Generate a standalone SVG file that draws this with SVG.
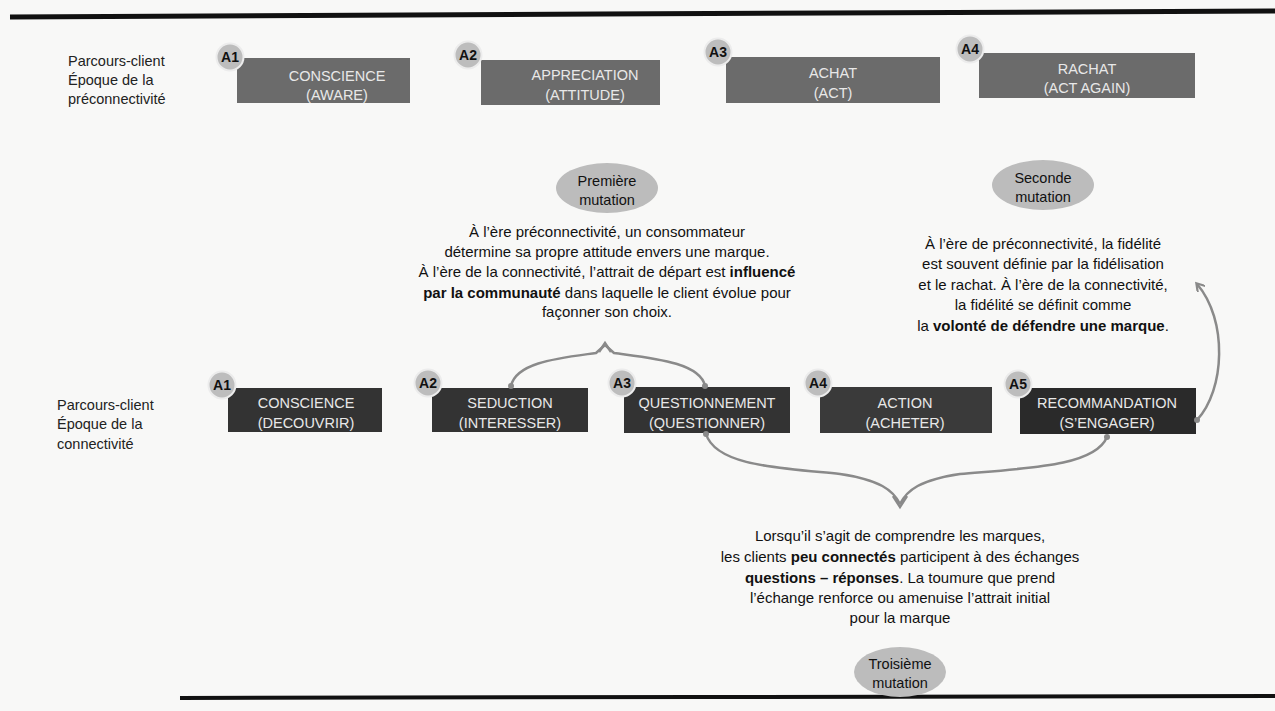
<svg xmlns="http://www.w3.org/2000/svg" width="1275" height="711" viewBox="0 0 1275 711">
<style>
text{font-family:"Liberation Sans",Arial,sans-serif;}
.lbl{font-size:14.5px;fill:#222;}
.bt{font-size:14.5px;fill:#e8e8e8;text-anchor:middle;}
.p{font-size:15px;fill:#111;text-anchor:middle;}
.b{font-weight:bold;}
.num{font-size:14px;font-weight:bold;fill:#111;text-anchor:middle;}
.c{fill:#bdbdbd;stroke:#ececec;stroke-width:2;}
.box1{fill:#6b6b6b;}
.box2{fill:#333333;}
.ell{fill:#bcbcbc;}
.et{font-size:14.5px;fill:#111;text-anchor:middle;}
.con{fill:none;stroke:#8a8a8a;stroke-width:2.5;}
.dot{fill:#8a8a8a;}
</style>
<defs>
<marker id="ah" markerWidth="10" markerHeight="10" refX="7" refY="5" orient="auto" markerUnits="userSpaceOnUse">
<path d="M0,0 L8,5 L0,10" fill="none" stroke="#8a8a8a" stroke-width="2.2"/>
</marker>
</defs>
<rect width="1275" height="711" fill="#f8f8f7"/>
<path d="M10,17 L600,14 L1275,11" stroke="#111" stroke-width="5" fill="none"/>
<path d="M180,698 L700,697 L1275,696" stroke="#111" stroke-width="4" fill="none"/>

<g id="label-pre">
<text class="lbl" x="68" y="66">Parcours-client</text>
<text class="lbl" x="68" y="85">Époque de la</text>
<text class="lbl" x="68" y="104">préconnectivité</text>
</g>
<g id="label-con">
<text class="lbl" x="57" y="410">Parcours-client</text>
<text class="lbl" x="57" y="429">Époque de la</text>
<text class="lbl" x="57" y="449">connectivité</text>
</g>

<g id="pA1">
<rect class="box1" x="237" y="58" width="173" height="45"/>
<text class="bt" x="337" y="81">CONSCIENCE</text>
<text class="bt" x="337" y="100">(AWARE)</text>
<circle class="c" cx="230" cy="57" r="13.5"/><text class="num" x="230" y="62">A1</text>
</g>
<g id="pA2">
<rect class="box1" x="481" y="60" width="179" height="45"/>
<text class="bt" x="585" y="80">APPRECIATION</text>
<text class="bt" x="585" y="100">(ATTITUDE)</text>
<circle class="c" cx="468" cy="55" r="13.5"/><text class="num" x="468" y="60">A2</text>
</g>
<g id="pA3">
<rect class="box1" x="726" y="57" width="214" height="46"/>
<text class="bt" x="833" y="78">ACHAT</text>
<text class="bt" x="833" y="98">(ACT)</text>
<circle class="c" cx="718" cy="52" r="13.5"/><text class="num" x="718" y="57">A3</text>
</g>
<g id="pA4">
<rect class="box1" x="979" y="53" width="216" height="45"/>
<text class="bt" x="1087" y="74">RACHAT</text>
<text class="bt" x="1087" y="93">(ACT AGAIN)</text>
<circle class="c" cx="970" cy="49" r="13.5"/><text class="num" x="970" y="54">A4</text>
</g>

<g id="m1">
<ellipse class="ell" cx="607" cy="188" rx="51" ry="25"/>
<text class="et" x="607" y="186">Première</text>
<text class="et" x="607" y="205">mutation</text>
</g>
<g id="t1">
<text class="p" x="607" y="237">À l’ère préconnectivité, un consommateur</text>
<text class="p" x="607" y="257">détermine sa propre attitude envers une marque.</text>
<text class="p" x="607" y="277">À l’ère de la connectivité, l’attrait de départ est <tspan class="b">influencé</tspan></text>
<text class="p" x="607" y="298"><tspan class="b">par la communauté</tspan> dans laquelle le client évolue pour</text>
<text class="p" x="607" y="317">façonner son choix.</text>
</g>

<g id="m2">
<ellipse class="ell" cx="1043" cy="185" rx="51" ry="25"/>
<text class="et" x="1043" y="183">Seconde</text>
<text class="et" x="1043" y="202">mutation</text>
</g>
<g id="t2">
<text class="p" x="1043" y="249">À l’ère de préconnectivité, la fidélité</text>
<text class="p" x="1043" y="269">est souvent définie par la fidélisation</text>
<text class="p" x="1043" y="290">et le rachat. À l’ère de la connectivité,</text>
<text class="p" x="1043" y="310">la fidélité se définit comme</text>
<text class="p" x="1043" y="331">la <tspan class="b">volonté de défendre une marque</tspan>.</text>
</g>

<g id="cA1">
<rect class="box2" x="228" y="388" width="154" height="44"/>
<text class="bt" x="306" y="408">CONSCIENCE</text>
<text class="bt" x="306" y="428">(DECOUVRIR)</text>
<circle class="c" cx="222" cy="385" r="13.5"/><text class="num" x="222" y="390">A1</text>
</g>
<g id="cA2">
<rect class="box2" x="432" y="388" width="156" height="44"/>
<text class="bt" x="510" y="408">SEDUCTION</text>
<text class="bt" x="510" y="428">(INTERESSER)</text>
<circle class="c" cx="428" cy="383" r="13.5"/><text class="num" x="428" y="388">A2</text>
</g>
<g id="cA3">
<rect class="box2" x="624" y="387" width="166" height="46"/>
<text class="bt" x="707" y="408">QUESTIONNEMENT</text>
<text class="bt" x="707" y="428">(QUESTIONNER)</text>
<circle class="c" cx="622" cy="383" r="13.5"/><text class="num" x="622" y="388">A3</text>
</g>
<g id="cA4">
<rect class="box2" x="820" y="387" width="172" height="46" style="fill:#3a3a3a"/>
<text class="bt" x="905" y="408">ACTION</text>
<text class="bt" x="905" y="428">(ACHETER)</text>
<circle class="c" cx="818" cy="383" r="13.5"/><text class="num" x="818" y="388">A4</text>
</g>
<g id="cA5">
<rect class="box2" x="1020" y="388" width="176" height="46" style="fill:#2a2a2a"/>
<text class="bt" x="1107" y="408">RECOMMANDATION</text>
<text class="bt" x="1107" y="428">(S’ENGAGER)</text>
<circle class="c" cx="1018" cy="384" r="13.5"/><text class="num" x="1018" y="389">A5</text>
</g>

<g id="m3">
<ellipse class="ell" cx="900" cy="672" rx="46" ry="25"/>
<text class="et" x="900" y="669">Troisième</text>
<text class="et" x="900" y="688">mutation</text>
</g>
<g id="t3">
<text class="p" x="900" y="541">Lorsqu’il s’agit de comprendre les marques,</text>
<text class="p" x="900" y="562">les clients <tspan class="b">peu connectés</tspan> participent à des échanges</text>
<text class="p" x="900" y="583"><tspan class="b">questions – réponses</tspan>. La toumure que prend</text>
<text class="p" x="900" y="603">l’échange renforce ou amenuise l’attrait initial</text>
<text class="p" x="900" y="623">pour la marque</text>
</g>

<g id="connectors">
<path class="con" d="M511,386 C516,362 560,358 596,353 L605,345 L614,353 C650,358 700,362 705,386"/>
<path d="M599,352 L605,343 L611,352" fill="none" stroke="#8a8a8a" stroke-width="2.5"/>
<circle class="dot" cx="511" cy="386" r="3"/>
<circle class="dot" cx="705" cy="386" r="3"/>
<path class="con" d="M706,434 C716,466 780,468 840,474 C880,480 893,490 900,504"/>
<path class="con" d="M1107,437 C1095,466 1030,468 960,474 C920,480 907,490 900,504"/>
<path d="M893,496 L900,507 L907,496" fill="none" stroke="#8a8a8a" stroke-width="2.5"/>
<circle class="dot" cx="706" cy="434" r="3"/>
<circle class="dot" cx="1107" cy="437" r="3"/>
<path class="con" d="M1197,420 C1225,390 1228,320 1197,284" marker-end="url(#ah)"/>
<circle class="dot" cx="1197" cy="420" r="3"/>
</g>
</svg>
